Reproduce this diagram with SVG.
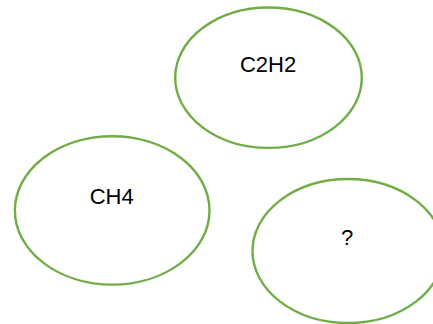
<svg xmlns="http://www.w3.org/2000/svg" width="433" height="324" viewBox="0 0 433 324">
  <style>
    .node ellipse { fill: #ffffff; stroke: #70ad47; stroke-width: 2.4; }
    .node text { font-family: "Liberation Sans", Arial, sans-serif; font-size: 22px; fill: #000000; text-anchor: middle; }
  </style>
  <rect width="433" height="324" fill="#ffffff"/>
  <g id="connectors"></g>
  <g id="node-c2h2" class="node">
    <ellipse cx="268.5" cy="77.7" rx="93.3" ry="70.2"/>
    <text x="268" y="72">C2H2</text>
  </g>
  <g id="node-ch4" class="node">
    <ellipse cx="112.2" cy="210.4" rx="97.3" ry="74.2"/>
    <text x="111.7" y="203.5">CH4</text>
  </g>
  <g id="node-unknown" class="node">
    <ellipse cx="348" cy="251" rx="95.5" ry="72"/>
    <text x="347" y="245">?</text>
  </g>
</svg>
